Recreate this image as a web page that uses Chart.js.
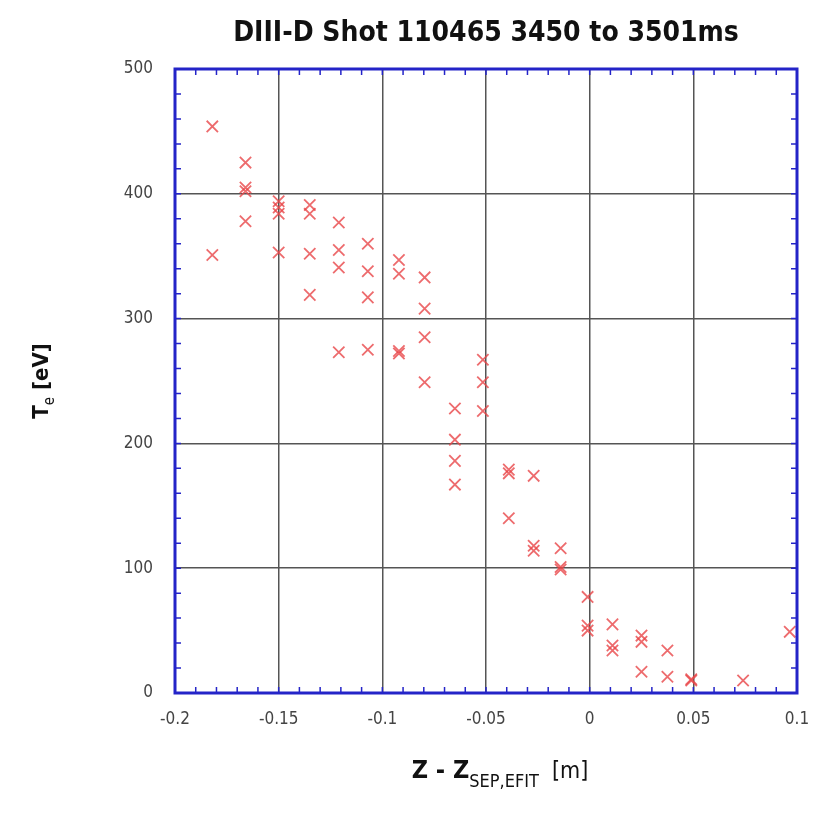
<!DOCTYPE html>
<html>
<head>
  <title>DIII-D Shot 110465</title>
  <style>
    html, body { margin: 0; padding: 0; background: #fff; }
    #wrap { width: 826px; height: 818px; }
  </style>
</head>
<body>
  <div id="wrap"><canvas id="chart"></canvas></div>

  <script src="https://cdn.jsdelivr.net/npm/chart.js"></script>
  <script>
    // Dados: posição Z - Zsep (m) e Te (eV)
    const zPos = [
      -0.182, -0.182,
      -0.166, -0.166, -0.166, -0.166,
      -0.150, -0.150, -0.150, -0.150,
      -0.135, -0.135, -0.135, -0.135,
      -0.121, -0.121, -0.121, -0.121,
      -0.107, -0.107, -0.107, -0.107,
      -0.092, -0.092, -0.092, -0.092,
      -0.0796, -0.0796, -0.0796, -0.0796,
      -0.065, -0.065, -0.065, -0.065,
      -0.0515, -0.0515, -0.0515,
      -0.039, -0.039, -0.039,
      -0.027, -0.027, -0.027,
      -0.014, -0.014, -0.014,
      -0.001, -0.001, -0.001,
      0.011, 0.011, 0.011,
      0.025, 0.025, 0.025,
      0.0375, 0.0375,
      0.049, 0.049,
      0.074,
      0.0965
    ];
    const teVals = [
      454, 351,
      425, 405, 402, 378,
      394, 389, 384, 353,
      391, 384, 352, 319,
      377, 355, 341, 273,
      360, 338, 317, 275,
      347, 336, 274, 272,
      333, 308, 285, 249,
      228, 203, 186, 167,
      267, 249, 226,
      179, 176, 140,
      174, 118, 114,
      116, 101, 99,
      77, 54, 50,
      55, 38, 34,
      46, 41, 17,
      34, 13,
      11, 10,
      10,
      49
    ];
    const xTickVals = [-0.2, -0.15, -0.1, -0.05, 0, 0.05, 0.1];
    const xTickLabels = ['-0.2', '-0.15', '-0.1', '-0.05', '0', '0.05', '0.1'];
    const yTickVals = [0, 100, 200, 300, 400, 500];
    const titulo = 'DIII-D Shot 110465 3450 to 3501ms';

    const FONT = '"Liberation Sans Narrow", "DejaVu Sans Condensed", Arial, sans-serif';

    const points = zPos.map((z, i) => ({ x: z, y: teVals[i] }));

    // Moldura azul, marcas menores, título e títulos dos eixos com subscrito
    const framePlugin = {
      id: 'frame',
      afterDraw(chart) {
        const ctx = chart.ctx;
        const a = chart.chartArea;
        const xs = chart.scales.x, ys = chart.scales.y;
        ctx.save();
        ctx.strokeStyle = '#2424c8';
        // marcas menores
        ctx.lineWidth = 1.5;
        ctx.beginPath();
        for (let v = -0.2; v <= 0.1001; v += 0.01) {
          const px = xs.getPixelForValue(v);
          ctx.moveTo(px, a.bottom); ctx.lineTo(px, a.bottom - 6);
          ctx.moveTo(px, a.top); ctx.lineTo(px, a.top + 6);
        }
        for (let v = 0; v <= 500; v += 20) {
          const py = ys.getPixelForValue(v);
          ctx.moveTo(a.left, py); ctx.lineTo(a.left + 6, py);
          ctx.moveTo(a.right, py); ctx.lineTo(a.right - 6, py);
        }
        ctx.stroke();
        ctx.lineWidth = 3;
        ctx.strokeRect(a.left, a.top, a.right - a.left, a.bottom - a.top);

        ctx.fillStyle = '#111';
        // título principal, centrado sobre a área do gráfico
        ctx.textAlign = 'center';
        ctx.textBaseline = 'alphabetic';
        ctx.font = 'bold 28px ' + FONT;
        ctx.fillText(titulo, (a.left + a.right) / 2, 41);

        // título do eixo x
        ctx.textAlign = 'left';
        const big = 'bold 25px ' + FONT, sub = '18px ' + FONT, unit = '23px ' + FONT;
        const p1 = 'Z - Z', p2 = 'SEP,EFIT', p3 = '  [m]';
        ctx.font = big; const w1 = ctx.measureText(p1).width;
        ctx.font = sub; const w2 = ctx.measureText(p2).width;
        ctx.font = unit; const w3 = ctx.measureText(p3).width;
        let x0 = 500 - (w1 + w2 + w3) / 2;
        const yb = 778;
        ctx.font = big; ctx.fillText(p1, x0, yb); x0 += w1;
        ctx.font = sub; ctx.fillText(p2, x0, yb + 9); x0 += w2;
        ctx.font = unit; ctx.fillText(p3, x0, yb);

        // título do eixo y (rotacionado)
        ctx.translate(48, (a.top + a.bottom) / 2);
        ctx.rotate(-Math.PI / 2);
        const q1 = 'T', q2 = 'e', q3 = ' [eV]';
        const yb1 = 'bold 22px ' + FONT, ys1 = '15px ' + FONT;
        ctx.font = yb1; const v1 = ctx.measureText(q1).width, v3 = ctx.measureText(q3).width;
        ctx.font = ys1; const v2 = ctx.measureText(q2).width;
        let t0 = -(v1 + v2 + v3) / 2;
        ctx.font = yb1; ctx.fillText(q1, t0, 0); t0 += v1;
        ctx.font = ys1; ctx.fillText(q2, t0, 6); t0 += v2;
        ctx.font = yb1; ctx.fillText(q3, t0, 0);
        ctx.restore();
      }
    };

    new Chart(document.getElementById('chart'), {
      type: 'scatter',
      data: {
        datasets: [{
          label: 'Te',
          data: points,
          pointStyle: 'crossRot',
          pointRadius: 8,
          pointHoverRadius: 8,
          borderColor: 'rgba(232, 70, 72, 0.8)',
          backgroundColor: 'rgba(232, 70, 72, 0.8)',
          pointBorderWidth: 1.8
        }]
      },
      options: {
        responsive: true,
        maintainAspectRatio: false,
        animation: false,
        layout: { padding: { top: 69, right: 29, bottom: 0, left: 0 } },
        plugins: {
          legend: { display: false },
          tooltip: { enabled: false },
          title: { display: false }
        },
        scales: {
          x: {
            type: 'linear',
            min: -0.2,
            max: 0.1,
            afterBuildTicks: s => { s.ticks = xTickVals.map(v => ({ value: v })); },
            afterFit: s => { s.height = 125; },
            ticks: {
              color: '#444',
              font: { family: FONT, size: 17 },
              padding: 16,
              maxRotation: 0,
              callback: (v) => xTickLabels[xTickVals.findIndex(t => Math.abs(t - v) < 1e-9)]
            },
            grid: { color: '#555', lineWidth: 1.5, drawTicks: false },
            border: { display: false }
          },
          y: {
            type: 'linear',
            min: 0,
            max: 500,
            afterBuildTicks: s => { s.ticks = yTickVals.map(v => ({ value: v })); },
            afterFit: s => { s.width = 175; },
            ticks: {
              color: '#444',
              font: { family: FONT, size: 17 },
              padding: 22
            },
            grid: { color: '#555', lineWidth: 1.5, drawTicks: false },
            border: { display: false }
          }
        }
      },
      plugins: [framePlugin]
    });
  </script>
</body>
</html>
